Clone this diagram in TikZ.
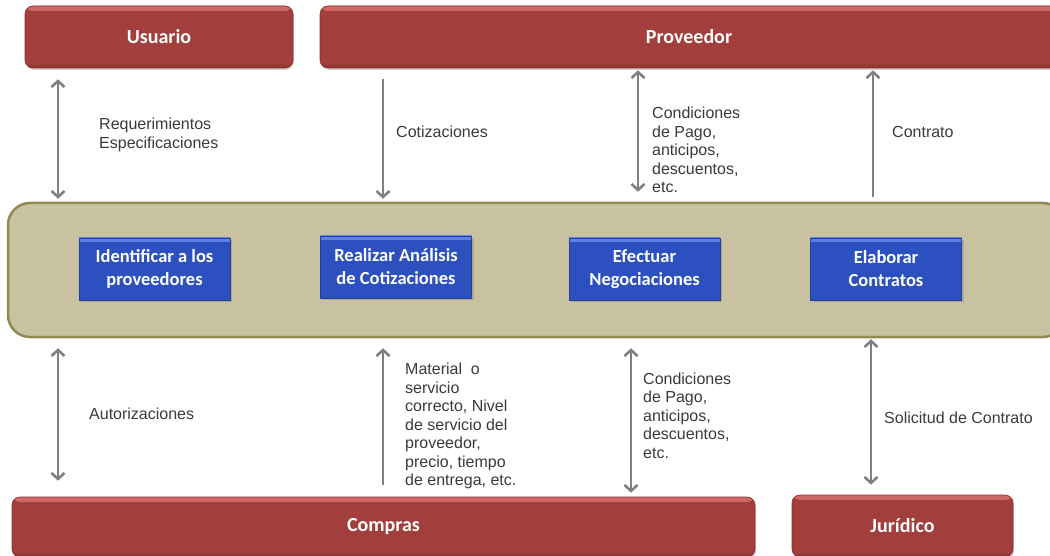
\documentclass[tikz,border=0pt]{standalone}
\usepackage{fontspec}
\setmainfont{Liberation Sans}
\newfontfamily\boxfont{Carlito}
\usetikzlibrary{arrows.meta,shadows,calc}
\definecolor{redmain}{HTML}{A23E3C}
\definecolor{redtop}{HTML}{CF6A66}
\definecolor{reddark}{HTML}{8A302E}
\definecolor{bluemain}{HTML}{2C50C0}
\definecolor{bluetop}{HTML}{6080E6}
\definecolor{bandfill}{HTML}{C8C2A0}
\definecolor{bandline}{HTML}{938953}
\definecolor{arrowgray}{HTML}{808080}
\definecolor{labeltext}{HTML}{3A3A3A}
\tikzset{
  actor/.style={rectangle, rounded corners=8pt, draw=reddark, line width=0.6pt,
    fill=redmain,
    path picture={
      \shade[top color=redtop, bottom color=redmain]
        (path picture bounding box.north west) rectangle
        ([yshift=-5pt]path picture bounding box.north east);
      \shade[top color=redmain, bottom color=reddark]
        ([yshift=5pt]path picture bounding box.south west) rectangle
        (path picture bounding box.south east);},
    drop shadow={shadow xshift=1pt, shadow yshift=-2pt, opacity=0.35},
    text=white, font=\boxfont\bfseries\fontsize{20}{24}\selectfont},
  task/.style={rectangle, draw=bluemain!80!black, line width=0.5pt,
    fill=bluemain,
    path picture={
      \shade[top color=bluetop, bottom color=bluemain]
        (path picture bounding box.north west) rectangle
        ([yshift=-4pt]path picture bounding box.north east);},
    drop shadow={shadow xshift=2pt, shadow yshift=-2pt, opacity=0.4},
    minimum width=151pt, minimum height=62pt, align=center, inner sep=0pt,
    text=white, font=\boxfont\bfseries\fontsize{18.5}{23}\selectfont},
  flowlabel/.style={anchor=west, align=left, inner sep=0pt, text=labeltext,
    font=\fontsize{16}{18.5}\selectfont},
  onearrow/.style={draw=arrowgray, line width=2.6pt,
    -{Straight Barb[length=6pt,width=13pt]}},
  twoarrow/.style={draw=arrowgray, line width=2.6pt,
    {Straight Barb[length=6pt,width=13pt]}-{Straight Barb[length=6pt,width=13pt]}}
}
\begin{document}
\begin{tikzpicture}[x=1pt,y=-1pt]
\useasboundingbox (0,0) rectangle (1050,556);
% process band
\node[rectangle, rounded corners=22pt, draw=bandline, line width=2.5pt, fill=bandfill,
      minimum width=1057pt, minimum height=134pt] (band) at (536.5,270) {};
% external parties
\node[actor, minimum width=268pt, minimum height=62pt] (usuario) at (159,37) {Usuario};
\node[actor, minimum width=738pt, minimum height=62pt] (proveedor) at (689,37) {Proveedor};
\node[actor, minimum width=743pt, minimum height=60pt] (compras) at (383.5,527) {Compras};
\node[actor, minimum width=221pt, minimum height=62pt] (juridico) at (902.5,526) {Jurídico};
% process steps
\node[task] (identificar) at (154.5,269) {Identificar a los\\proveedores};
\node[task] (analisis) at (396,267) {Realizar Análisis\\de Cotizaciones};
\node[task] (negociar) at (644.5,269) {Efectuar\\Negociaciones};
\node[task] (contratos) at (886,269) {Elaborar\\Contratos};
% arrow columns
\coordinate (c1) at (58,0);
\coordinate (c2) at (383,0);
\coordinate (c3) at (638,0);
\coordinate (c4) at (873,0);
\coordinate (d1) at (58,0);
\coordinate (d2) at (383,0);
\coordinate (d3) at (631,0);
\coordinate (d4) at (871,0);
% upper flows
\draw[twoarrow, shorten <=11pt, shorten >=3pt] (usuario.south -| c1) -- (band.north -| c1);
\draw[onearrow, shorten <=11pt, shorten >=3pt] (proveedor.south -| c2) -- (band.north -| c2);
\draw[twoarrow, shorten <=2pt, shorten >=10pt] (proveedor.south -| c3) -- (band.north -| c3);
\draw[onearrow, shorten <=5pt, shorten >=2pt] (band.north -| c4) -- (proveedor.south -| c4);
% lower flows
\draw[twoarrow, shorten <=10pt, shorten >=16pt] (band.south -| d1) -- (compras.north -| d1);
\draw[onearrow, shorten <=12pt, shorten >=10pt] (compras.north -| d2) -- (band.south -| d2);
\draw[twoarrow, shorten <=10pt, shorten >=4pt] (band.south -| d3) -- (compras.north -| d3);
\draw[twoarrow, shorten <=1pt, shorten >=10pt] (band.south -| d4) -- (juridico.north -| d4);
% flow labels
\node[flowlabel] (lreq) at (99,135) {Requerimientos\\Especificaciones};
\node[flowlabel] (lcot) at (396,132) {Cotizaciones};
\node[flowlabel] (lcond1) at (652,150) {Condiciones\\de Pago,\\anticipos,\\descuentos,\\etc.};
\node[flowlabel] (lcontr) at (892,132) {Contrato};
\node[flowlabel] (laut) at (89,414) {Autorizaciones};
\node[flowlabel] (lmat) at (405,426) {Material\ \ o\\servicio\\correcto, Nivel\\de servicio del\\proveedor,\\precio, tiempo\\de entrega, etc.};
\node[flowlabel] (lcond2) at (643,415.5) {Condiciones\\de Pago,\\anticipos,\\descuentos,\\etc.};
\node[flowlabel] (lsol) at (884,418) {Solicitud de Contrato};
\end{tikzpicture}
\end{document}
